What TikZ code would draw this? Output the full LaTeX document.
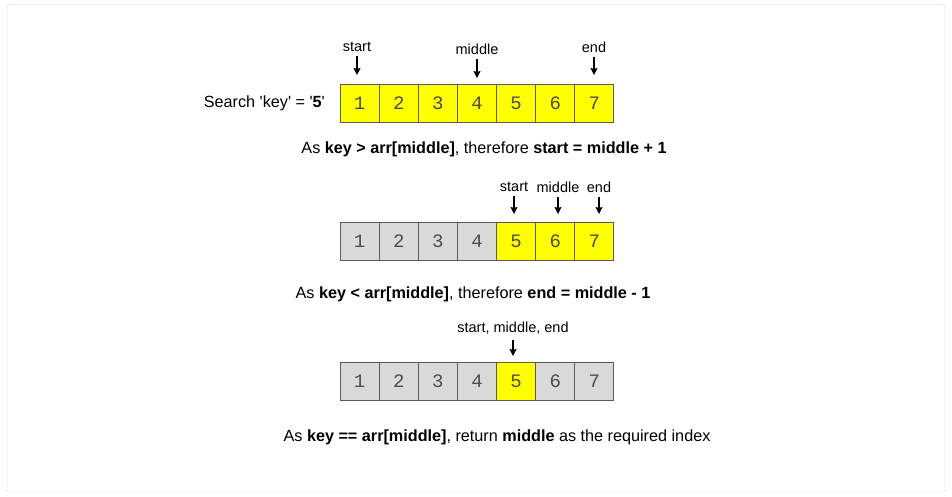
\documentclass[tikz,border=0pt]{standalone}
\usepackage{fontspec}
\setmainfont{Liberation Sans}
\newfontfamily\cellfont{Liberation Mono}
\usetikzlibrary{arrows.meta}
\definecolor{cellyel}{HTML}{FFFF00}
\definecolor{cellgry}{HTML}{D9D9D9}
\definecolor{cellbdr}{HTML}{5A5A5A}
\definecolor{framegry}{HTML}{D0D0D0}
\tikzset{
  cell/.style={draw=cellbdr,line width=1pt,minimum width=39pt,minimum height=38.5pt,
    inner sep=0pt,font=\cellfont\fontsize{19}{19}\selectfont,text=black!70},
  lbl/.style={font=\fontsize{14.5}{17}\selectfont,inner sep=0pt},
  txt/.style={font=\fontsize{16.2}{19}\selectfont,inner sep=0pt},
  ptr/.style={-{Stealth[length=7pt,width=7pt,inset=1pt]},line width=1.1pt}
}
\begin{document}
\begin{tikzpicture}[x=1pt,y=-1pt]
\useasboundingbox (0,0) rectangle (952,497);
\draw[framegry,rounded corners=2pt] (7,4.5) rectangle (945,492);
% first pass
\foreach \i in {1,...,7}
  \node[cell,fill=cellyel] (a\i) at (340+39.14*\i-19.57,103.5) {\i};
\node[txt,anchor=east] (key) at (325,103.5) {Search \textquotesingle key\textquotesingle{} = \textquotesingle\textbf{5}\textquotesingle};
\node[lbl] (s1) at (357,47) {start};
\node[lbl] (m1) at (477,49.5) {middle};
\node[lbl] (e1) at (594,47) {end};
\coordinate (s1e) at (357,75);
\coordinate (m1e) at (477,78);
\coordinate (e1e) at (594,75);
\draw[ptr] ([yshift=-4pt]s1.south) -- (s1e);
\draw[ptr] ([yshift=-4pt]m1.south) -- (m1e);
\draw[ptr] ([yshift=-4pt]e1.south) -- (e1e);
\node[txt] (t1) at (484,149) {As \textbf{key > arr[middle]}, therefore \textbf{start = middle + 1}};
% second pass
\foreach \i/\c in {1/cellgry,2/cellgry,3/cellgry,4/cellgry,5/cellyel,6/cellyel,7/cellyel}
  \node[cell,fill=\c] (b\i) at (340+39.14*\i-19.57,241.5) {\i};
\node[lbl] (s2) at (514,187) {start};
\node[lbl] (m2) at (558,187) {middle};
\node[lbl] (e2) at (599,187) {end};
\coordinate (s2e) at (514,214);
\coordinate (m2e) at (558,214);
\coordinate (e2e) at (599,214);
\draw[ptr] ([yshift=-4pt]s2.south) -- (s2e);
\draw[ptr] ([yshift=-4pt]m2.south) -- (m2e);
\draw[ptr] ([yshift=-4pt]e2.south) -- (e2e);
\node[txt] (t2) at (473,294) {As \textbf{key < arr[middle]}, therefore \textbf{end = middle - 1}};
% third pass
\foreach \i/\c in {1/cellgry,2/cellgry,3/cellgry,4/cellgry,5/cellyel,6/cellgry,7/cellgry}
  \node[cell,fill=\c] (c\i) at (340+39.14*\i-19.57,381.5) {\i};
\node[lbl] (all3) at (513,328) {start, middle, end};
\coordinate (all3e) at (513,356);
\draw[ptr] ([yshift=-6pt]all3.south) -- (all3e);
\node[txt] (t3) at (497,437) {As \textbf{key == arr[middle]}, return \textbf{middle} as the required index};
\end{tikzpicture}
\end{document}
